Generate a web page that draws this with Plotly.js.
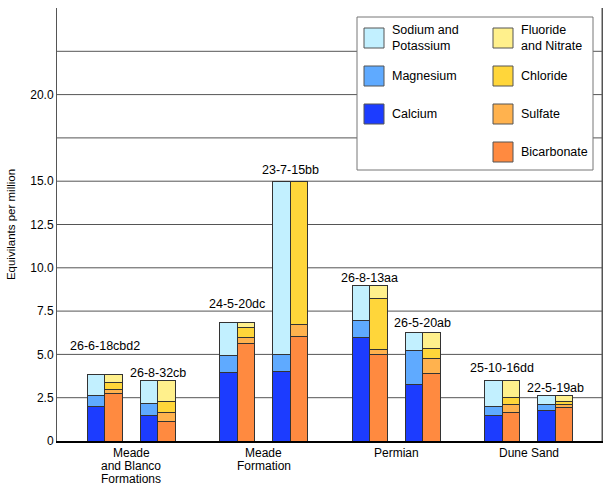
<!DOCTYPE html>
<html>
<head>
<meta charset="utf-8">
<script src="https://cdn.plot.ly/plotly-3.0.1.min.js"></script>
<style>
  html, body { margin: 0; padding: 0; background: #fff; }
  #chart { width: 609px; height: 493px; }
</style>
</head>
<body>
<div id="chart"></div>
<script>
// sample wells, grouped by aquifer
const samples = ['26-6-18cbd2', '26-8-32cb', '24-5-20dc', '23-7-15bb',
	'26-8-13aa', '26-5-20ab', '25-10-16dd', '22-5-19ab'];
const sampleGroup = [0, 0, 1, 1, 2, 2, 3, 3];
const sampleSlot = [0, 1, 0, 1, 0, 1, 0, 1];
const groups = ['Meade<br>and Blanco<br>Formations', 'Meade<br>Formation', 'Permian', 'Dune Sand'];

// cations (equivalents per million)
const calcium = [2.0, 1.48, 3.94, 4.0, 5.96, 3.25, 1.48, 1.75];
const magnesium = [0.6, 0.69, 1.0, 0.98, 1.02, 2.0, 0.5, 0.38];
const sodiumPotassium = [1.25, 1.33, 1.93, 10.02, 2.02, 1.04, 1.54, 0.47];

// anions (equivalents per million)
const bicarbonate = [2.75, 1.12, 5.62, 6.06, 4.98, 3.88, 1.63, 1.92];
const sulfate = [0.23, 0.55, 0.34, 0.67, 0.31, 0.91, 0.49, 0.18];
const chloride = [0.39, 0.6, 0.58, 8.27, 2.92, 0.54, 0.4, 0.17];
const fluorideNitrate = [0.48, 1.23, 0.33, 0, 0.79, 0.96, 1.0, 0.33];

const yTicks = [0, 2.5, 5, 7.5, 10, 12.5, 15, 20];
const yTickText = ['0', '2.5', '5.0', '7.5', '10.0', '12.5', '15.0', '20.0'];

// layout constants (x in bar widths)
const firstCenter = 2.74, pairGap = 3.03, groupPitch = 7.57, barW = 1;
// lift of each sample label's middle above its bar top, px
const labelLift = [28, 7, 18, 11, 7, 9, 12, 8];

const colors = {
	na: '#c2f0ff', mg: '#5faaff', ca: '#1c3cff',
	fn: '#fff08c', cl: '#ffd63a', so4: '#ffb24e', hco3: '#ff8a40'
};
const font = 'Liberation Sans, Arial, sans-serif';

const centers = samples.map((s, i) => firstCenter + sampleGroup[i] * groupPitch + sampleSlot[i] * pairGap);
const catX = centers.map(c => c - barW / 2);
const anX = centers.map(c => c + barW / 2);

function seg(name, x, y, color) {
	return {
		type: 'bar', name: name, x: x, y: y, width: barW,
		marker: { color: color, line: { color: '#333', width: 1 } },
		showlegend: false, hoverinfo: 'name+y'
	};
}

const traces = [
	seg('Calcium', catX, calcium, colors.ca),
	seg('Magnesium', catX, magnesium, colors.mg),
	seg('Sodium and Potassium', catX, sodiumPotassium, colors.na),
	seg('Bicarbonate', anX, bicarbonate, colors.hco3),
	seg('Sulfate', anX, sulfate, colors.so4),
	seg('Chloride', anX, chloride, colors.cl),
	seg('Fluoride and Nitrate', anX, fluorideNitrate, colors.fn)
];

const totals = calcium.map((v, i) => Math.max(v + magnesium[i] + sodiumPotassium[i],
	bicarbonate[i] + sulfate[i] + chloride[i] + fluorideNitrate[i]));

const annotations = samples.map((s, i) => ({
	x: centers[i], y: totals[i], xref: 'x', yref: 'y', text: s,
	showarrow: false, yanchor: 'middle', yshift: labelLift[i],
	font: { family: font, size: 12.5, color: '#000' }
}));

// group names under the axis, one line at a time for tighter spacing
groups.forEach((g, i) => {
	g.split('<br>').forEach((line, k) => {
		annotations.push({
			x: firstCenter + i * groupPitch + pairGap / 2, y: 0, xref: 'x', yref: 'paper',
			text: line, showarrow: false, yanchor: 'middle', yshift: -12 - 13 * k,
			font: { family: font, size: 12, color: '#000' }
		});
	});
});

// legend drawn as shapes and text in paper space
const M = { l: 57, r: 7, t: 8, b: 52 };
const W = 609, H = 493;
const px = x => (x - M.l) / (W - M.l - M.r);
const py = y => (H - M.b - y) / (H - M.t - M.b);

const legendItems = [
	{ t: 'Sodium and<br>Potassium', c: colors.na, col: 0, row: 0 },
	{ t: 'Magnesium', c: colors.mg, col: 0, row: 1 },
	{ t: 'Calcium', c: colors.ca, col: 0, row: 2 },
	{ t: 'Fluoride<br>and Nitrate', c: colors.fn, col: 1, row: 0 },
	{ t: 'Chloride', c: colors.cl, col: 1, row: 1 },
	{ t: 'Sulfate', c: colors.so4, col: 1, row: 2 },
	{ t: 'Bicarbonate', c: colors.hco3, col: 1, row: 3 }
];
const colX = [364, 493], rowY = [38, 76, 114, 152];

const shapes = [{
	type: 'rect', xref: 'paper', yref: 'paper',
	x0: px(357), x1: px(593), y0: py(170), y1: py(17),
	fillcolor: '#fff', line: { color: '#777', width: 1 }, layer: 'above'
}];
legendItems.forEach(it => {
	const x = colX[it.col], y = rowY[it.row];
	shapes.push({
		type: 'rect', xref: 'paper', yref: 'paper',
		x0: px(x), x1: px(x + 20), y0: py(y + 10), y1: py(y - 10),
		fillcolor: it.c, line: { color: '#555', width: 1 }, layer: 'above'
	});
	annotations.push({
		x: px(x + 26), y: py(y), xref: 'paper', yref: 'paper', text: it.t,
		showarrow: false, xanchor: 'left', yanchor: 'middle', align: 'left',
		font: { family: font, size: 12.5, color: '#000' }
	});
});

// horizontal grid every 2.5 up to the top, drawn under the bars
const gridShapes = [];
for (let v = 2.5; v < 25; v += 2.5) {
	gridShapes.push({
		type: 'line', xref: 'paper', yref: 'y', x0: 0, x1: 1, y0: v, y1: v,
		line: { color: '#555', width: 1 }, layer: 'below'
	});
}
gridShapes.push({
	type: 'line', xref: 'paper', yref: 'paper', x0: 1, x1: 1, y0: 0, y1: 1,
	line: { color: '#555', width: 1 }, layer: 'above'
});

const layout = {
	width: W, height: H,
	margin: M,
	barmode: 'stack',
	paper_bgcolor: '#fff', plot_bgcolor: '#fff',
	showlegend: false,
	font: { family: font, size: 12, color: '#000' },
	xaxis: {
		range: [0, (W - M.l - M.r) / 17.5],
		showticklabels: false,
		ticks: '', showgrid: false, zeroline: false,
		showline: true, linecolor: '#000', linewidth: 1.5
	},
	yaxis: {
		range: [0, 25],
		tickvals: yTicks, ticktext: yTickText,
		ticks: '', showgrid: false, zeroline: false,
		showline: true, linecolor: '#555', linewidth: 1, mirror: true,
		tickfont: { family: font, size: 12, color: '#000' },
		title: { text: 'Equivilants per million', standoff: 12, font: { family: font, size: 11.5, color: '#000' } }
	},
	shapes: gridShapes.concat(shapes),
	annotations: annotations
};

Plotly.newPlot('chart', traces, layout, { displayModeBar: false, staticPlot: true });
</script>
</body>
</html>
